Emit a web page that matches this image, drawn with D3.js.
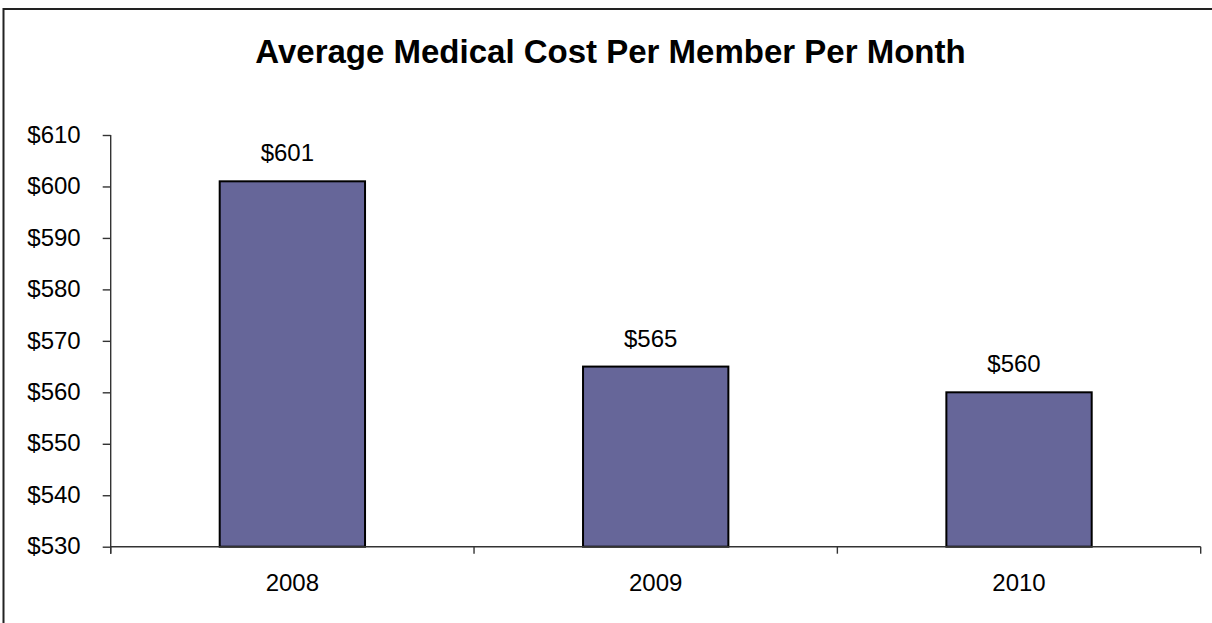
<!DOCTYPE html>
<html>
<head>
<meta charset="utf-8">
<script src="https://cdn.jsdelivr.net/npm/d3@7"></script>
<style>
  html, body { margin: 0; padding: 0; background: #fff; }
  svg { display: block; font-family: Arial, "Liberation Sans", sans-serif; }
</style>
</head>
<body>
<svg id="chart" width="1212" height="623"></svg>
<script>
const title = "Average Medical Cost Per Member Per Month";
const categories = ["2008", "2009", "2010"];
const values = [601, 565, 560];
const yTicks = [530, 540, 550, 560, 570, 580, 590, 600, 610];

(function () {
const svg = d3.select("#chart");
const W = 1212, H = 623;
const mLeft = 110.7, mRight = 1200.7, mTop = 135, mBottom = 546.7;

// frame
svg.append("rect")
  .attr("x", 3.5).attr("y", 9).attr("width", W + 10).attr("height", H + 10)
  .attr("fill", "#fff").attr("stroke", "#222").attr("stroke-width", 2);

// title
svg.append("text")
  .attr("x", (258 + 963) / 2).attr("y", 63)
  .attr("text-anchor", "middle")
  .attr("font-size", 33).attr("font-weight", "bold")
  .attr("fill", "#000")
  .text(title);

const x = d3.scaleBand().domain(categories).range([mLeft, mRight]).paddingInner(0.6).paddingOuter(0.3);
const xOuter = d3.scaleBand().domain(categories).range([mLeft, mRight]).padding(0);
const y = d3.scaleLinear().domain([530, 610]).range([mBottom, mTop]);

// bars
svg.append("g").selectAll("rect").data(values).join("rect")
  .attr("x", (d, i) => x(categories[i]))
  .attr("y", d => y(d))
  .attr("width", x.bandwidth())
  .attr("height", d => y(530) - y(d))
  .attr("fill", "#666699")
  .attr("stroke", "#000")
  .attr("stroke-width", 2);

// y axis
const yAxis = svg.append("g").attr("transform", `translate(${mLeft},0)`)
  .call(d3.axisLeft(y).tickValues(yTicks).tickSize(8).tickPadding(22).tickFormat(d => "$" + d));
yAxis.selectAll("path, line").attr("stroke", "#333").attr("stroke-width", 1.4);
yAxis.select(".domain").attr("d", `M0,${mTop}V${mBottom + 7}`);
yAxis.selectAll("text").attr("font-size", 24).attr("fill", "#000")
  .attr("font-family", "Arial, 'Liberation Sans', sans-serif").attr("dy", "0.3em");

// x axis
const xAxis = svg.append("g").attr("transform", `translate(0,${mBottom})`);
xAxis.append("line").attr("x1", mLeft).attr("x2", mRight).attr("y1", 0).attr("y2", 0)
  .attr("stroke", "#333").attr("stroke-width", 1.4);
const boundaries = categories.map(c => xOuter(c)).concat([mRight]);
xAxis.selectAll("line.tick").data(boundaries).join("line").attr("class", "tick")
  .attr("x1", d => d).attr("x2", d => d).attr("y1", 0).attr("y2", 7)
  .attr("stroke", "#333").attr("stroke-width", 1.4);
xAxis.selectAll("text").data(categories).join("text")
  .attr("x", d => xOuter(d) + xOuter.bandwidth() / 2)
  .attr("y", 44)
  .attr("text-anchor", "middle")
  .attr("font-size", 24).attr("fill", "#000")
  .text(d => d);

// data labels
svg.append("g").selectAll("text").data(values).join("text")
  .attr("x", (d, i) => x(categories[i]) + x.bandwidth() / 2 - 5)
  .attr("y", d => y(d) - 20)
  .attr("text-anchor", "middle")
  .attr("font-size", 24).attr("fill", "#000")
  .text(d => "$" + d);
})();
</script>
</body>
</html>
